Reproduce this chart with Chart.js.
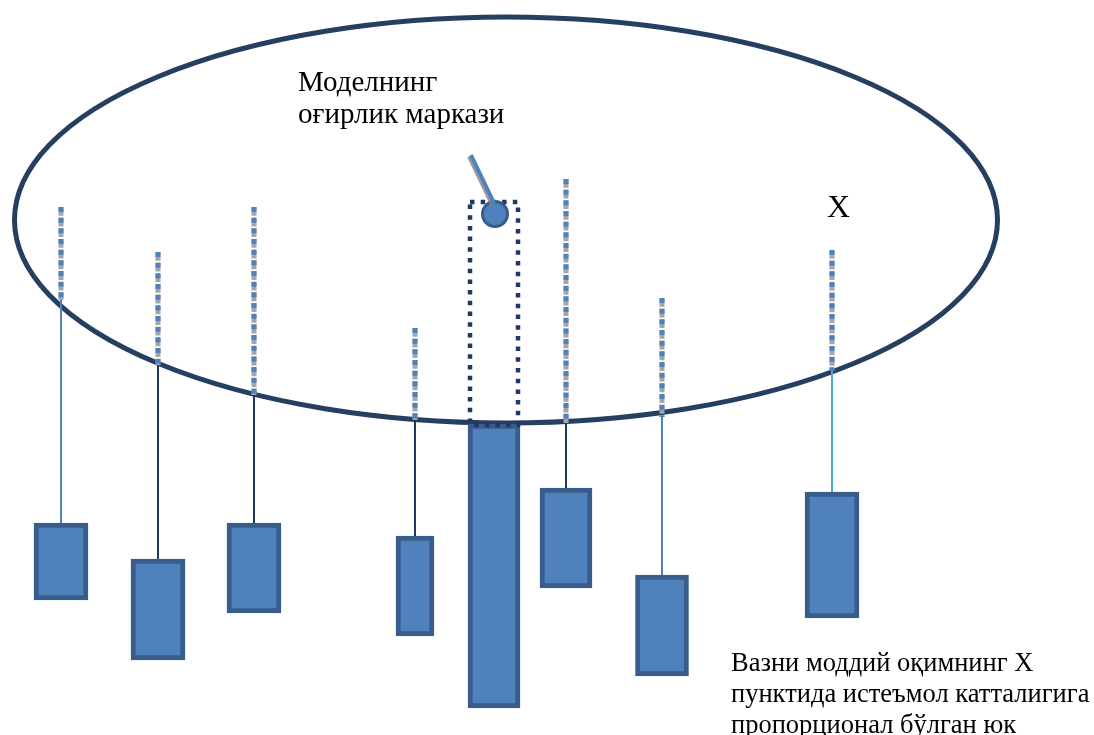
<!DOCTYPE html>
<html>
<head>
<meta charset="utf-8">
<script src="https://cdn.jsdelivr.net/npm/chart.js@4.4.0/dist/chart.umd.min.js"></script>
<style>
    html, body { margin: 0; padding: 0; background: #fff; }
    #wrap { width: 1094px; height: 735px; }
</style>
</head>
<body>
<div id="wrap"><canvas id="scheme" width="1094" height="735"></canvas></div>
<script>
// Грузы: центр по x, верх, низ, ширина
const weightX = [61, 158, 254, 415, 494, 566, 662, 832];
const weightTop = [523, 559, 523, 536, 424, 488, 575, 492];
const weightBottom = [600, 660, 613, 636, 708, 588, 676, 618];
const weightWidth = [54, 54, 54, 38, 52, 52, 53, 54];

// Нити: верх пунктирной части и пересечение с эллипсом (у центрального груза нити нет)
const threadTop = [207, 252, 207, 328, null, 179, 298, 250];
const threadCross = [300, 365, 395, 420, null, 423, 417, 371];

// Эллипс (центр и полуоси)
const ellipseCenter = [506, 220];
const ellipseRadius = [491.5, 203];

// Центр тяжести, стрелка и пунктирная рамка
const centerPoint = [495, 214];
const pointerX = [471, 494];
const pointerY = [155, 203];
const frameX = [470, 518, 518, 470, 470];
const frameY = [202, 202, 425, 425, 202];

// Подписи
const titleLines = ['Моделнинг', 'оғирлик маркази'];
const pointLabel = 'X';
const noteLines = ['Вазни моддий оқимнинг Х', 'пунктида истеъмол катталигига', 'пропорционал бўлган юк'];

// Цвета
const threadColors = ['#4f81bd', '#1f3864', '#1f3864', '#1f3864', null, '#1f3864', '#4f81bd', '#4bacc6'];
const fillBlue = '#4f81bd';
const edgeBlue = '#385d8a';
const navy = '#243f60';

const datasets = [];

// стрелка к центру тяжести (с тенью)
datasets.push({
    type: 'line',
    data: pointerX.map((v, i) => ({x: v, y: pointerY[i]})),
    borderColor: fillBlue,
    borderWidth: 4,
    borderCapStyle: 'butt',
    pointRadius: 0,
    shadow: true
});

// центр тяжести
datasets.push({
    type: 'scatter',
    data: [{x: centerPoint[0], y: centerPoint[1]}],
    backgroundColor: fillBlue,
    borderColor: edgeBlue,
    borderWidth: 3,
    pointRadius: 12.5
});

// пунктирная рамка
datasets.push({
    type: 'line',
    data: frameX.map((v, i) => ({x: v, y: frameY[i]})),
    borderColor: '#1f3864',
    borderWidth: 4.5,
    borderDash: [4.5, 6.2],
    borderCapStyle: 'butt',
    pointRadius: 0
});

// грузы
weightX.forEach((v, i) => {
    datasets.push({
        type: 'bar',
        data: [{x: v, y: [weightTop[i], weightBottom[i]]}],
        backgroundColor: fillBlue,
        borderColor: edgeBlue,
        borderWidth: 5,
        borderSkipped: false,
        barThickness: weightWidth[i],
        grouped: false
    });
});

// нити
weightX.forEach((v, i) => {
    if (threadTop[i] === null) return;
    // сплошная часть под эллипсом
    datasets.push({
        type: 'line',
        data: [{x: v, y: threadCross[i]}, {x: v, y: weightTop[i]}],
        borderColor: threadColors[i],
        borderWidth: 2,
        pointRadius: 0
    });
    // пунктир: синие квадраты поверх серых
    datasets.push({
        type: 'line',
        data: [{x: v, y: threadTop[i]}, {x: v, y: threadCross[i]}],
        borderColor: fillBlue,
        borderWidth: 5,
        borderDash: [5, 5.67],
        borderCapStyle: 'butt',
        pointRadius: 0
    });
    datasets.push({
        type: 'line',
        data: [{x: v, y: threadTop[i]}, {x: v, y: threadCross[i]}],
        borderColor: '#a5a5a5',
        borderWidth: 5,
        borderDash: [8.7, 2],
        borderCapStyle: 'butt',
        pointRadius: 0
    });
});

// эллипс под всеми элементами
const ellipsePlugin = {
    id: 'ellipse',
    beforeDatasetsDraw(chart) {
        const {ctx, scales: {x, y}} = chart;
        const cx = x.getPixelForValue(ellipseCenter[0]);
        const cy = y.getPixelForValue(ellipseCenter[1]);
        const rx = Math.abs(x.getPixelForValue(ellipseCenter[0] + ellipseRadius[0]) - cx);
        const ry = Math.abs(y.getPixelForValue(ellipseCenter[1] + ellipseRadius[1]) - cy);
        ctx.save();
        ctx.beginPath();
        ctx.ellipse(cx, cy, rx, ry, 0, 0, 2 * Math.PI);
        ctx.lineWidth = 5;
        ctx.strokeStyle = navy;
        ctx.stroke();
        ctx.restore();
    }
};

// тень у стрелки
const shadowPlugin = {
    id: 'shadow',
    beforeDatasetDraw(chart, args) {
        if (!chart.data.datasets[args.index].shadow) return;
        const ctx = chart.ctx;
        ctx.save();
        ctx.shadowColor = 'rgba(128,128,128,0.8)';
        ctx.shadowOffsetX = -2;
        ctx.shadowOffsetY = 1.5;
        ctx.shadowBlur = 0;
    },
    afterDatasetDraw(chart, args) {
        if (!chart.data.datasets[args.index].shadow) return;
        chart.ctx.restore();
    }
};

// подписи
const textPlugin = {
    id: 'texts',
    afterDatasetsDraw(chart) {
        const {ctx, scales: {x, y}} = chart;
        ctx.save();
        ctx.fillStyle = '#000';
        ctx.textBaseline = 'alphabetic';
        ctx.font = '29px "Liberation Serif"';
        titleLines.forEach((line, i) => {
            ctx.fillText(line, x.getPixelForValue(298), y.getPixelForValue(91 + i * 32));
        });
        ctx.font = '26.5px "Liberation Serif"';
        noteLines.forEach((line, i) => {
            ctx.fillText(line, x.getPixelForValue(731), y.getPixelForValue(671 + i * 31));
        });
        ctx.font = '32px "Liberation Serif"';
        ctx.fillText(pointLabel, x.getPixelForValue(827), y.getPixelForValue(217));
        ctx.restore();
    }
};

new Chart(document.getElementById('scheme'), {
    type: 'scatter',
    data: {datasets: datasets},
    options: {
        responsive: false,
        animation: false,
        events: [],
        layout: {padding: 0, autoPadding: false},
        plugins: {
            legend: {display: false},
            tooltip: {enabled: false}
        },
        scales: {
            x: {type: 'linear', min: 0, max: 1094, offset: false, display: false},
            y: {type: 'linear', min: 0, max: 735, reverse: true, offset: false, display: false}
        }
    },
    plugins: [ellipsePlugin, shadowPlugin, textPlugin]
});
</script>
</body>
</html>
